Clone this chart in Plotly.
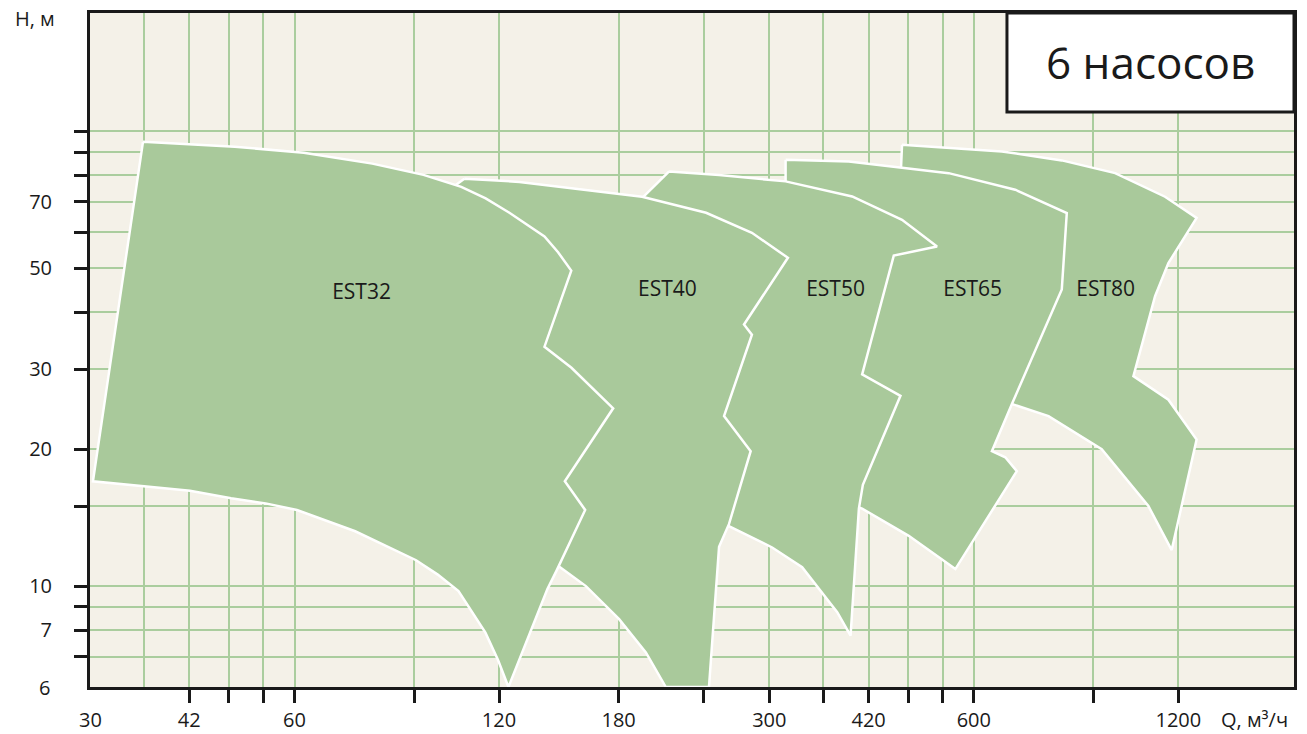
import math
import plotly.graph_objects as go

# ---------------- data (Q in m3/h, H in m) ----------------
pumps = ["EST32", "EST40", "EST50", "EST65", "EST80"]

est32_q = [35.9, 49.0, 61.9, 78.1, 92.9, 105.6, 114.7, 124.3, 140.0, 146.6, 153.3,
           140.0, 153.4, 166.7, 176.7, 150.0, 160.7, 145.8, 141.4, 123.9,
           119.6, 114.6, 104.6, 97.5, 90.6, 73.7, 60.5, 54.4, 48.4, 42.1, 35.95, 30.3]
est32_h = [94.8, 92.5, 89.7, 84.9, 80.2, 75.5, 71.2, 66.2, 58.7, 54.2, 49.4,
           33.6, 30.2, 26.8, 24.6, 17.0, 14.7, 10.8, 9.85, 6.0,
           6.88, 7.9, 9.75, 10.6, 11.4, 13.2, 14.7, 15.2, 15.6, 16.2, 16.6, 17.0]

est40_q = [106.7, 128.6, 194.9, 242.1, 282.8, 319.5, 275.3, 282.8, 257.3, 281.6,
           261.7, 253.0, 244.5, 211.2, 197.4, 180.3, 161.1, 146.4, 142.3, 120.2, 101.4]
est40_h = [78.6, 77.4, 71.8, 66.2, 59.8, 52.7, 37.6, 35.7, 23.65, 19.8,
           13.7, 12.2, 6.0, 6.0, 7.15, 8.46, 10.0, 11.1, 11.1, 25.7, 74.4]

est50_q = [213.6, 253.0, 317.0, 397.2, 470.4, 529.6, 457.4, 410.9, 467.9, 411.9, 406.4,
           395.1, 377.6, 354.9, 335.3, 302.9, 260.2, 253.0, 236.4, 186.5, 193.0]
est50_h = [81.6, 80.1, 77.6, 71.9, 63.9, 55.8, 53.3, 29.2, 26.2, 16.7, 14.8,
           7.78, 8.76, 9.85, 11.0, 12.16, 13.6, 14.0, 23.3, 60.8, 70.3]

est65_q = [317.0, 392.8, 551.0, 690.3, 822.2, 808.4, 682.4, 637.9, 667.5, 694.1,
           563.6, 526.7, 481.2, 410.9, 395.5, 392.8, 309.9, 317.0]
est65_h = [86.6, 85.8, 80.9, 74.4, 66.1, 44.9, 25.1, 19.8, 19.2, 17.9,
           10.9, 11.7, 12.9, 14.8, 15.1, 23.3, 63.9, 75.9]

est80_q = [470.4, 659.9, 808.4, 968.6, 1147.1, 1276.7, 1160.2, 1109.0, 1030.5, 1160.2,
           1276.7, 1173.2, 1084.1, 925.6, 772.8, 686.4, 652.6, 465.2, 467.9]
est80_h = [93.4, 90.3, 86.3, 80.9, 71.8, 64.5, 51.3, 43.4, 28.95, 25.7,
           21.0, 12.0, 15.0, 20.0, 23.65, 25.1, 25.7, 63.9, 82.3]

label_q = [75.3, 212.4, 375.5, 597.6, 938.1]
label_h = [44.0, 44.5, 44.5, 44.5, 44.5]

x_tick_vals = [42, 48, 54, 60, 90, 120, 180, 240, 300, 360, 420, 480, 540, 600, 900, 1200]
x_tick_text = ["42", "", "", "60", "", "120", "180", "", "300", "", "420", "", "", "600", "", "1200"]
x_extra_grid = [36]
y_tick_vals = [7, 8, 9, 10, 15, 20, 30, 40, 50, 60, 70, 80, 90, 100]
y_tick_text = ["", "7", "", "10", "", "20", "30", "", "50", "", "70", "", "", ""]
x_range = [30, 1776]
y_range = [6, 182]

title_box = "6 насосов"
y_title = "H, м"
x_title = "Q, м³/ч"

# ---------------- style ----------------
FILL = "#a9c99b"
GRID = "#aacd9e"
BG = "#f4f1e8"
INK = "#1a1a1a"
FONT = "Open Sans"

series = {
    "EST32": (est32_q, est32_h),
    "EST40": (est40_q, est40_h),
    "EST50": (est50_q, est50_h),
    "EST65": (est65_q, est65_h),
    "EST80": (est80_q, est80_h),
}

fig = go.Figure()
# draw right-most pump first so that left ones lie on top
for name in reversed(pumps):
    q, h = series[name]
    fig.add_trace(go.Scatter(
        x=q + [q[0]], y=h + [h[0]], mode="lines", fill="toself",
        fillcolor=FILL, line=dict(color="white", width=2.5),
        hoverinfo="skip", name=name))

fig.add_trace(go.Scatter(
    x=label_q, y=label_h, mode="text", text=pumps,
    textfont=dict(family=FONT, size=21, color=INK), hoverinfo="skip"))

axis_common = dict(
    type="log", tickmode="array", ticks="outside", ticklen=13, tickwidth=3,
    tickcolor=INK, showline=True, linewidth=3, linecolor=INK, mirror=True,
    showgrid=True, gridcolor=GRID, gridwidth=2, zeroline=False, automargin=False,
    tickfont=dict(family=FONT, size=20, color=INK),
)

fig.update_xaxes(**axis_common, range=[math.log10(x_range[0]), math.log10(x_range[1])],
                 tickvals=x_tick_vals, ticktext=x_tick_text, ticklabelstandoff=0,
                 minor=dict(tickmode="array", tickvals=x_extra_grid, showgrid=True,
                            gridcolor=GRID, gridwidth=2, ticks=""))
fig.update_yaxes(**axis_common, range=[math.log10(y_range[0]), math.log10(y_range[1])],
                 tickvals=y_tick_vals, ticktext=y_tick_text, ticklabelstandoff=18)

fig.update_layout(
    width=1307, height=734,
    margin=dict(l=90, r=13, t=13, b=47),
    plot_bgcolor=BG, paper_bgcolor="white", showlegend=False,
    font=dict(family=FONT, size=20, color=INK),
)

# box with the number of pumps
fig.add_shape(type="rect", xref="paper", yref="paper", x0=0.7616, x1=1.0, y0=0.853, y1=1.0,
              fillcolor="white", line=dict(color=INK, width=3), layer="above")
fig.add_annotation(text=title_box, xref="paper", yref="paper", x=0.8804, y=0.9273,
                   xanchor="center", yanchor="middle",
                   showarrow=False, font=dict(family=FONT, size=44, color=INK))

# axis titles and corner labels
fig.add_annotation(text=y_title, xref="paper", yref="paper", x=0, y=1, xanchor="right",
                   yanchor="middle", xshift=-33, yshift=-5, showarrow=False,
                   font=dict(family=FONT, size=20, color=INK))
fig.add_annotation(text=str(y_range[0]), xref="paper", yref="paper", x=0, y=0, xanchor="right",
                   yanchor="middle", xshift=-38, showarrow=False,
                   font=dict(family=FONT, size=20, color=INK))
fig.add_annotation(text=str(x_range[0]), xref="paper", yref="paper", x=0, y=0, xanchor="center",
                   yanchor="top", yshift=-17, showarrow=False,
                   font=dict(family=FONT, size=20, color=INK))
fig.add_annotation(text=x_title, xref="paper", yref="paper", x=0.9377, y=0, xanchor="left",
                   yanchor="top", yshift=-17, showarrow=False,
                   font=dict(family=FONT, size=20, color=INK))

fig.write_html("out.html")
